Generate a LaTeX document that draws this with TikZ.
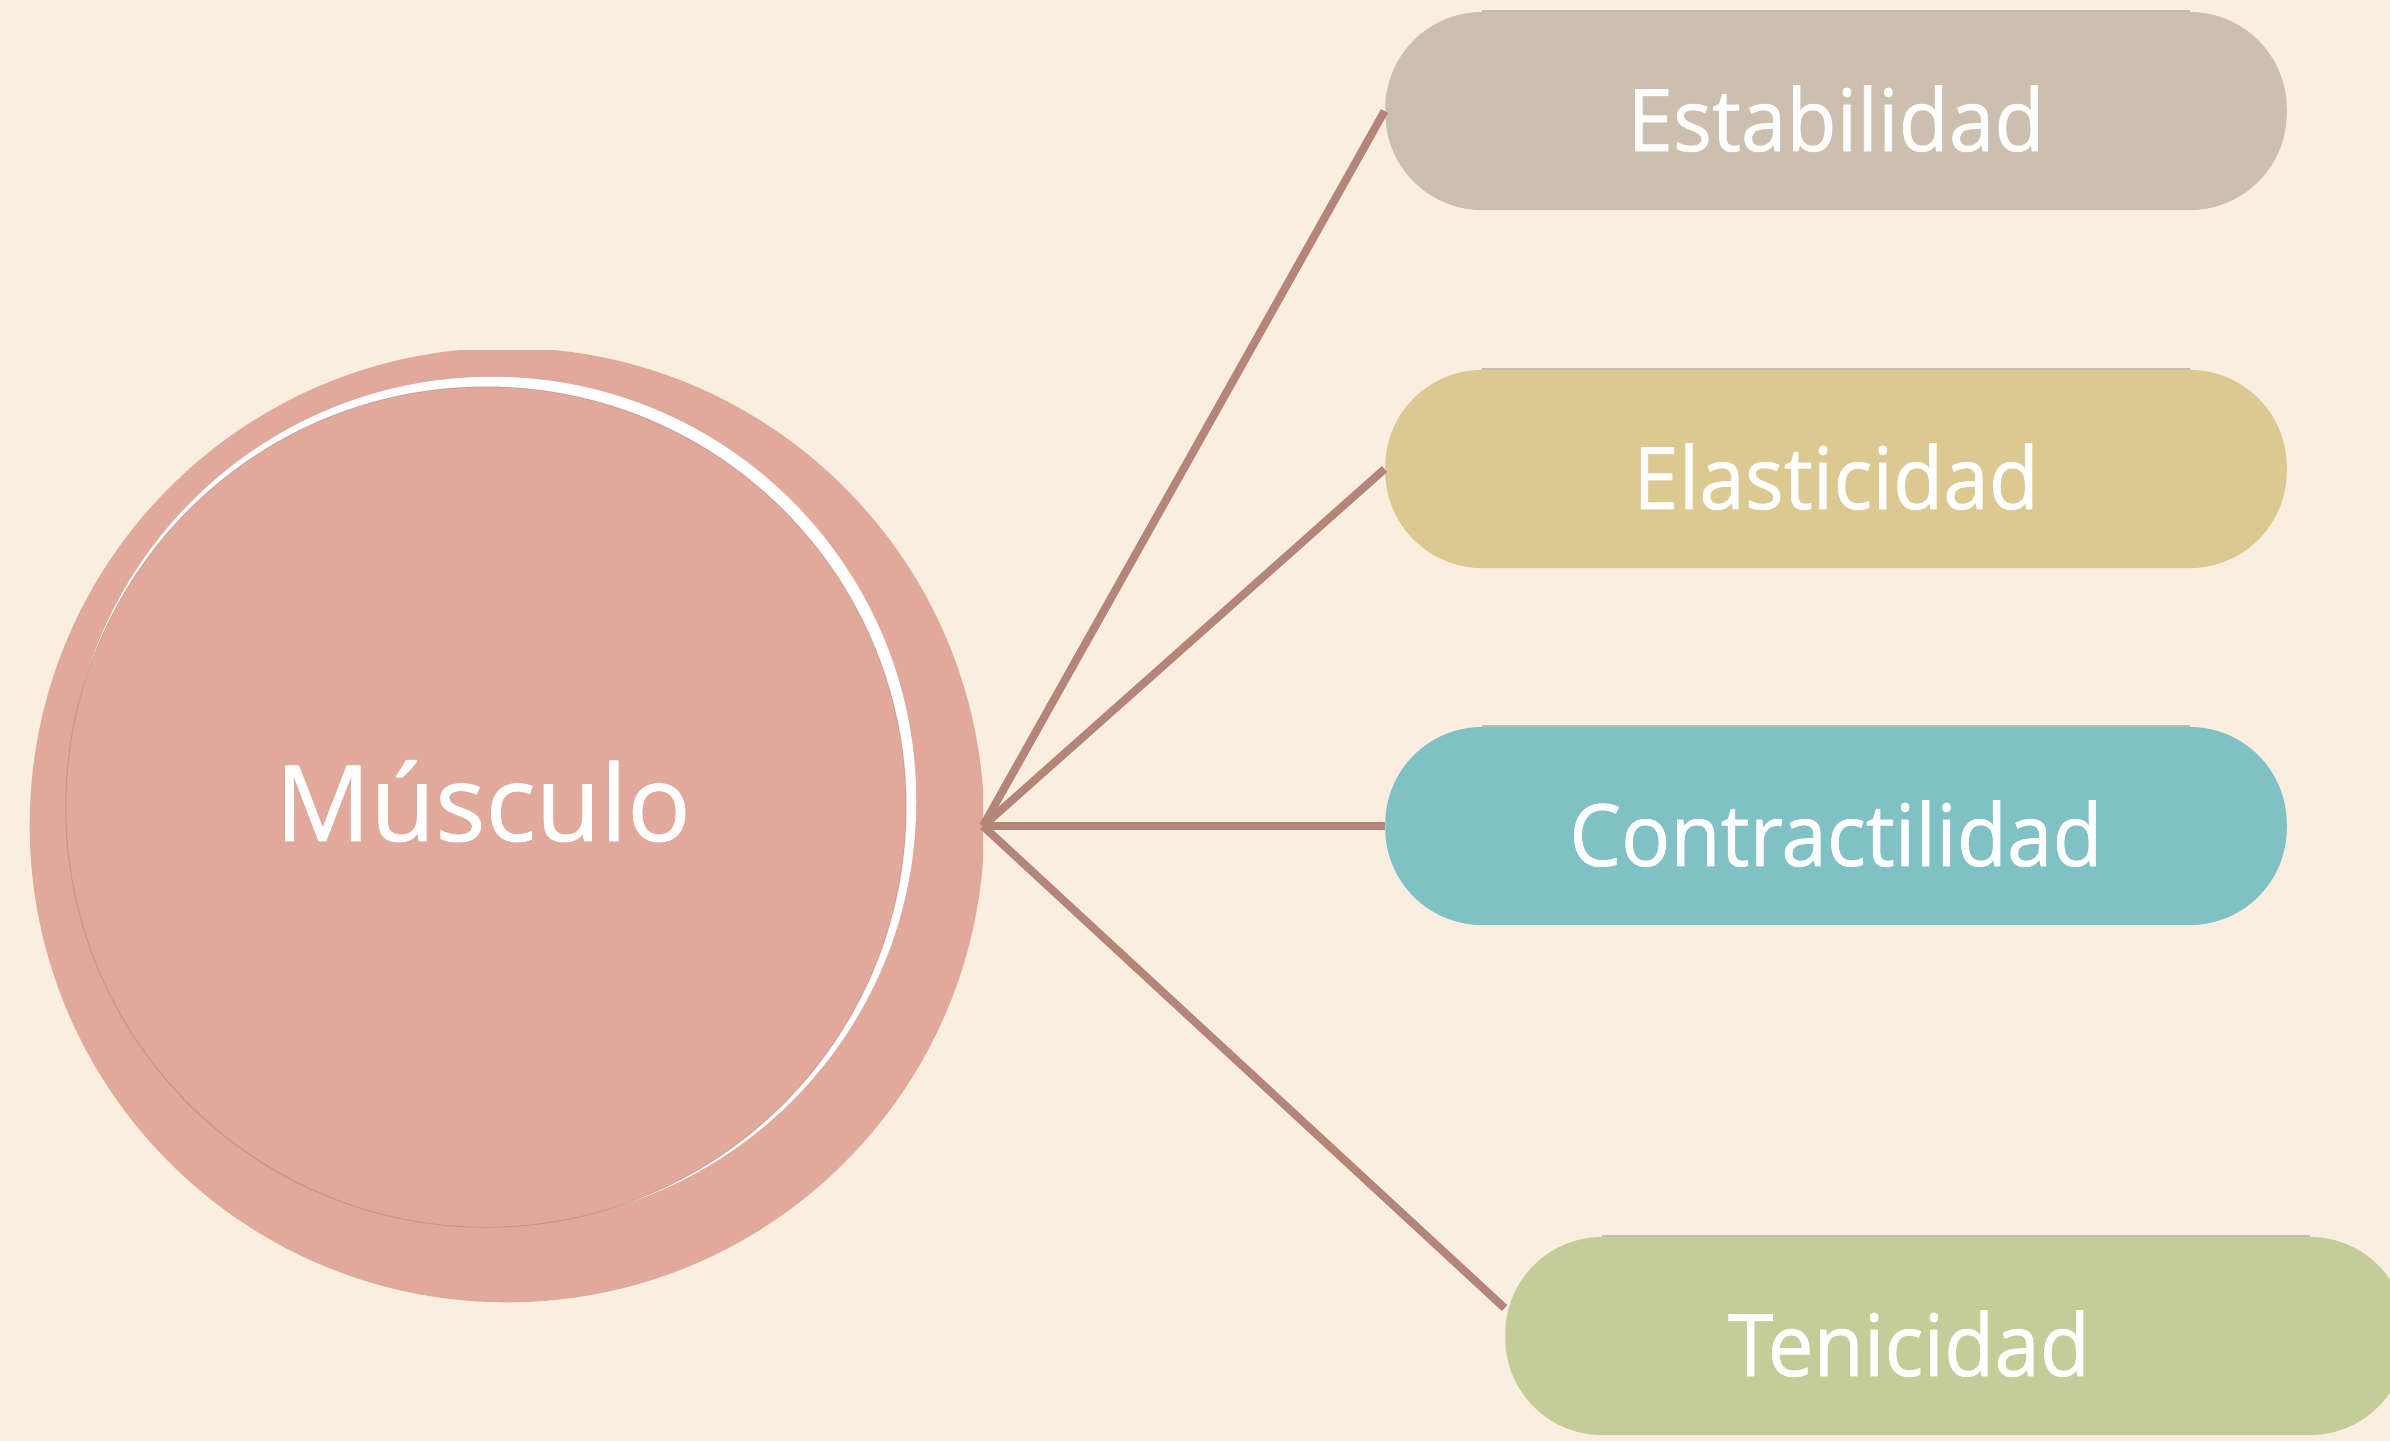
\documentclass[tikz,border=0pt]{standalone}
\usepackage{fontspec}
\setmainfont[FakeBold=0.8]{Open Sans}
\newfontfamily\narrowfont[FakeStretch=0.95,FakeBold=0.8]{Open Sans}
\usetikzlibrary{calc}
\definecolor{fondo}{HTML}{F9EEE0}
\definecolor{rosa}{HTML}{E0A99C}
\definecolor{linea}{HTML}{B5857A}
\definecolor{gris}{HTML}{CDBFAD}
\definecolor{ocre}{HTML}{DCC891}
\definecolor{turquesa}{HTML}{7FC1C5}
\definecolor{oliva}{HTML}{C4CD97}
\tikzset{
	caja/.style={rectangle,rounded corners=0.97cm,minimum width=9.01cm,minimum height=1.98cm,inner sep=0pt,text height=0.8cm,text depth=0cm,text=white,font=\narrowfont\fontsize{24.5}{26}\selectfont},
	rama/.style={draw=linea,line width=0.08cm},
}
\begin{document}
\begin{tikzpicture}[x=0.01cm,y=-0.01cm]
	\useasboundingbox (0,0) rectangle (2390,1441);
	\clip (0,0) rectangle (2390,1441);
	\fill[fondo] (0,0) rectangle (2390,1441);% Fondo
	\begin{scope}
		\clip (0,350) rectangle (983,1441);
		\fill[rosa] (507,825) circle (4.77cm);% Circulo exterior
	\end{scope}
	\fill[white] (492,801) circle (4.24cm);% Brillo
	\fill[rosa,draw=black,draw opacity=.12,line width=0.01cm] (486,807) circle (4.2cm);% Circulo interior
	\node[anchor=base,text=white,font=\fontsize{30}{32}\selectfont] (musculo) at (483,841) {Músculo};
	\node[caja,fill=gris] (estabilidad) at (1836,111) {Estabilidad};
	\node[caja,fill=ocre] (elasticidad) at (1836,469) {Elasticidad};
	\node[caja,fill=turquesa] (contractilidad) at (1836,826) {Contractilidad};
	\node[caja,fill=oliva] (tenicidad) at (1956,1336) {Tenicidad\hspace*{0.94cm}};
	\foreach \b in {estabilidad,elasticidad,contractilidad,tenicidad}
		\draw[black,opacity=.2,line width=0.02cm] ([xshift=0.97cm]\b.north west) -- ([xshift=-0.97cm]\b.north east);% Sombra superior
	\coordinate (centro) at (983,826);
	\foreach \destino in {estabilidad,elasticidad,contractilidad}
		\draw[rama] (centro) -- (\destino.west);
	\draw[rama] (centro) -- ([yshift=0.28cm]tenicidad.west);
\end{tikzpicture}
\end{document}
